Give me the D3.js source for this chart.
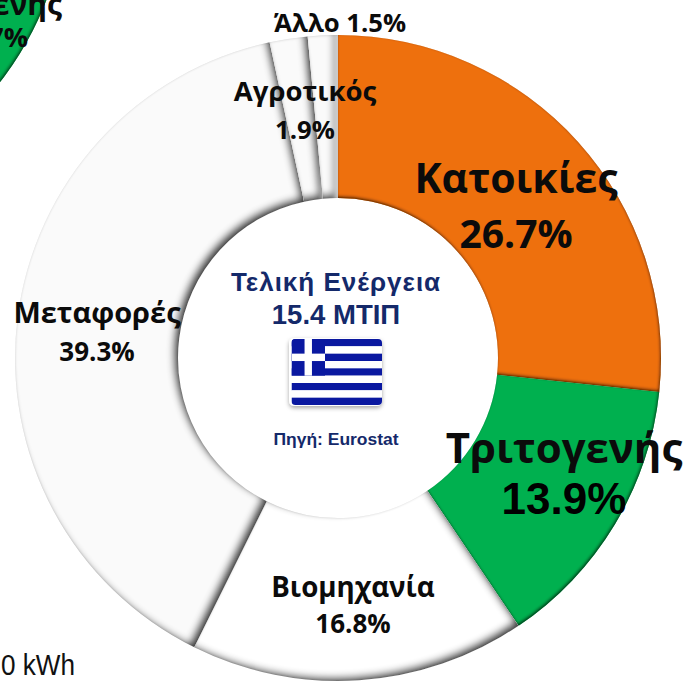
<!DOCTYPE html>
<html>
<head>
<meta charset="utf-8">
<script src="https://cdn.jsdelivr.net/npm/d3@7"></script>
<style>
    html, body { margin: 0; padding: 0; background: #fff; overflow: hidden; }
    svg { display: block; }
    .lbl { font-family: "Open Sans", "Noto Sans", sans-serif; font-weight: 700; fill: #0b0b0b; text-anchor: middle; }
    .arial { font-family: "Liberation Sans", Arial, sans-serif; font-weight: 700; text-anchor: middle; }
    .centre { fill: #14296a; }
</style>
</head>
<body>
<svg id="chart" width="688" height="681"></svg>
<script>
// final energy by sector, Greece
const categories = ['Κατοικίες', 'Τριτογενής', 'Βιομηχανία', 'Μεταφορές', 'Αγροτικός', 'Άλλο'];
const shares = [26.7, 13.9, 16.8, 39.3, 1.9, 1.5];
const sliceColors = ['#ee700b', '#00b050', '#ffffff', '#fafafa', '#fafafa', '#fafafa'];

// the neighbouring doughnut, cropped by the top left corner
const otherCategories = ['Κατοικίες', 'Τριτογενής'];
const otherShares = [26.3, 13.7, 60];

const centreLines = ['Τελική Ενέργεια', '15.4 ΜΤΙΠ'];
const sourceText = 'Πηγή: Eurostat';
const cutOffText = '0 kWh';
const flagStripes = d3.range(9);

const svg = d3.select('#chart');
const defs = svg.append('defs');

// inner shadow lit from the top left, plus a thin rim all round
function bevel(id, blur, dx, dy, opacity, rimOpacity) {
    const f = defs.append('filter').attr('id', id)
        .attr('x', '-10%').attr('y', '-10%').attr('width', '120%').attr('height', '120%');
    f.append('feFlood').attr('flood-color', '#000').attr('flood-opacity', 1).attr('result', 'black');
    f.append('feComposite').attr('in', 'black').attr('in2', 'SourceAlpha').attr('operator', 'out').attr('result', 'outside');

    f.append('feOffset').attr('in', 'outside').attr('dx', dx).attr('dy', dy).attr('result', 'moved');
    f.append('feGaussianBlur').attr('in', 'moved').attr('stdDeviation', blur).attr('result', 'soft');
    f.append('feComposite').attr('in', 'soft').attr('in2', 'SourceAlpha').attr('operator', 'in').attr('result', 'inner');
    f.append('feComponentTransfer').attr('in', 'inner').attr('result', 'shade')
        .append('feFuncA').attr('type', 'linear').attr('slope', opacity);

    f.append('feGaussianBlur').attr('in', 'outside').attr('stdDeviation', 1).attr('result', 'softRim');
    f.append('feComposite').attr('in', 'softRim').attr('in2', 'SourceAlpha').attr('operator', 'in').attr('result', 'innerRim');
    f.append('feComponentTransfer').attr('in', 'innerRim').attr('result', 'rim')
        .append('feFuncA').attr('type', 'linear').attr('slope', rimOpacity);

    const m = f.append('feMerge');
    m.append('feMergeNode').attr('in', 'SourceGraphic');
    m.append('feMergeNode').attr('in', 'shade');
    m.append('feMergeNode').attr('in', 'rim');
}
bevel('bevelWhite', 3.6, -5, -4, 0.95, 0.3);
bevel('bevelColor', 1.5, -1.5, -2, 0.9, 0.25);

const flagShadow = defs.append('filter').attr('id', 'flagShadow')
    .attr('x', '-20%').attr('y', '-20%').attr('width', '140%').attr('height', '150%');
flagShadow.append('feDropShadow').attr('dx', 0).attr('dy', 2).attr('stdDeviation', 2)
    .attr('flood-color', '#000').attr('flood-opacity', 0.35);

const pie = d3.pie().sort(null).value(d => d);
const arc = d3.arc().innerRadius(160).outerRadius(323);

// main ring
const ring = svg.append('g').attr('transform', 'translate(338,358)');
ring.selectAll('path')
    .data(pie(shares))
    .join('path')
    .attr('d', arc)
    .attr('fill', (d, i) => sliceColors[i])
    .attr('filter', (d, i) => i < 2 ? 'url(#bevelColor)' : 'url(#bevelWhite)');

// cropped ring, only its green slice reaches the picture
svg.append('g').attr('transform', 'translate(-255,-116)')
    .selectAll('path')
    .data(pie(otherShares).slice(1, 2))
    .join('path')
    .attr('d', arc)
    .attr('fill', sliceColors[1])
    .attr('filter', 'url(#bevelColor)');

// sector labels
const pct = v => v.toFixed(1) + '%';
const labelLayout = [
    { x: 516, y: 193, size: 41, y2: 248, size2: 39 },
    { x: 564, y: 463, size: 42, y2: 514, size2: 44, arial2: true },
    { x: 353, y: 597, size: 27.7, y2: 633, size2: 26 },
    { x: 97, y: 323, size: 29, y2: 361, size2: 26 },
    { x: 305, y: 101, size: 27.5, y2: 139, size2: 25.7 },
];
categories.slice(0, 5).forEach((name, i) => {
    const l = labelLayout[i];
    svg.append('text').attr('class', 'lbl').attr('x', l.x).attr('y', l.y)
        .attr('font-size', l.size).text(name);
    svg.append('text').attr('class', l.arial2 ? 'arial' : 'lbl').attr('x', l.x).attr('y', l.y2)
        .attr('font-size', l.size2).text(pct(shares[i]));
});
svg.append('text').attr('class', 'lbl').attr('x', 340).attr('y', 32)
    .attr('font-size', 25.7).text(`${categories[5]} ${pct(shares[5])}`);

// what is left of the neighbour's label
svg.append('text').attr('class', 'lbl').attr('x', 62).attr('y', 15)
    .attr('font-size', 30).style('text-anchor', 'end').text(otherCategories[1]);
svg.append('text').attr('class', 'lbl').attr('x', 28).attr('y', 47)
    .attr('font-size', 27).style('text-anchor', 'end').text(pct(otherShares[1]));

// centre block
svg.append('text').attr('class', 'arial centre').attr('x', 336).attr('y', 291)
    .attr('font-size', 26).attr('letter-spacing', 1).text(centreLines[0]);
svg.append('text').attr('class', 'arial centre').attr('x', 336).attr('y', 324)
    .attr('font-size', 27.5).text(centreLines[1]);
svg.append('text').attr('class', 'arial centre').attr('x', 336).attr('y', 445)
    .attr('font-size', 17).attr('textLength', 125).attr('lengthAdjust', 'spacingAndGlyphs').text(sourceText);

// flag
const stripeY = d3.scaleBand().domain(flagStripes).range([339, 405]);
const flag = svg.append('g');
defs.append('clipPath').attr('id', 'flagClip').append('rect')
    .attr('x', 291.5).attr('y', stripeY.range()[0]).attr('width', 90.5).attr('height', 66).attr('rx', 4);
flag.append('rect').attr('x', 289).attr('y', 338).attr('width', 93).attr('height', 68).attr('rx', 5)
    .attr('fill', '#fff').attr('filter', 'url(#flagShadow)');
const flagInner = flag.append('g').attr('clip-path', 'url(#flagClip)');
flagInner.selectAll('rect.stripe')
    .data(flagStripes)
    .join('rect')
    .attr('class', 'stripe')
    .attr('x', 291.5).attr('width', 90.5)
    .attr('y', d => stripeY(d)).attr('height', stripeY.bandwidth())
    .attr('fill', d => d % 2 ? '#fff' : '#0a18a0');
const cantonH = stripeY.bandwidth() * 5;
const cantonW = 33.5;
flagInner.append('rect').attr('x', 291.5).attr('y', 339).attr('width', cantonW).attr('height', cantonH).attr('fill', '#0a18a0');
flagInner.append('rect').attr('x', 291.5 + cantonW / 2 - 3.7).attr('y', 339).attr('width', 7.4).attr('height', cantonH).attr('fill', '#fff');
flagInner.append('rect').attr('x', 291.5).attr('y', 339 + cantonH / 2 - 3.7).attr('width', cantonW).attr('height', 7.4).attr('fill', '#fff');

// stray text from the slide underneath
svg.append('text').attr('x', 1).attr('y', 675)
    .attr('font-family', '"Liberation Sans", Arial, sans-serif').attr('font-size', 29)
    .attr('textLength', 74).attr('lengthAdjust', 'spacingAndGlyphs')
    .attr('fill', '#111').text(cutOffText);
</script>
</body>
</html>
